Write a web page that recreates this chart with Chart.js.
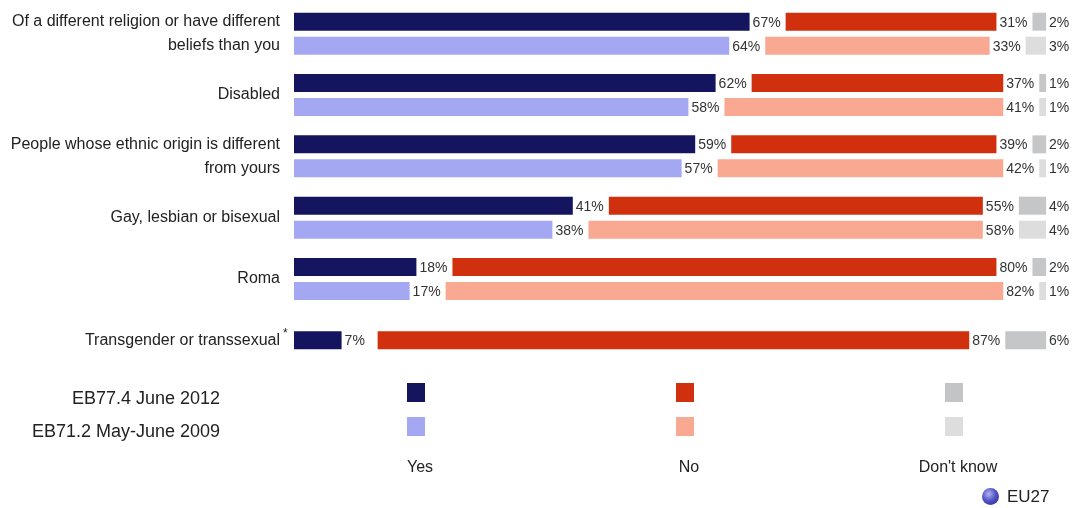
<!DOCTYPE html>
<html>
<head>
<meta charset="utf-8">
<script src="https://cdn.jsdelivr.net/npm/chart.js@4"></script>
<style>
  body { margin: 0; background: #fff; font-family: "Liberation Sans", Arial, sans-serif; }
  #wrap { position: relative; width: 1076px; height: 508px; }
  #wrap canvas { position: absolute; left: 0; top: 0; }
  .lbl { position: absolute; color: #222; white-space: nowrap; }
  .sq { position: absolute; width: 18px; height: 19px; }
  .series { font-size: 18px; line-height: 20px; text-align: right; width: 220px; left: 0; }
  .col { font-size: 16px; line-height: 18px; text-align: center; width: 120px; }
  .globe { position: absolute; left: 982px; top: 488px; width: 17px; height: 17px; border-radius: 50%;
           background: radial-gradient(circle at 40% 35%, #b4b4f0 0%, #5555c8 45%, #22227a 100%); }
</style>
</head>
<body>
<div id="wrap">
  <canvas id="myChart"></canvas>
  <div class="lbl series" style="top:388px">EB77.4 June 2012</div>
  <div class="lbl series" style="top:421px">EB71.2 May-June 2009</div>
  <div class="sq" style="left:407px;top:383px;background:#15155f"></div>
  <div class="sq" style="left:407px;top:417px;background:#a4a8f2"></div>
  <div class="sq" style="left:676px;top:383px;background:#d0300e"></div>
  <div class="sq" style="left:676px;top:417px;background:#f9a892"></div>
  <div class="sq" style="left:945px;top:383px;background:#c2c4c6"></div>
  <div class="sq" style="left:945px;top:417px;background:#dddddd"></div>
  <div class="lbl col" style="left:360px;top:458px">Yes</div>
  <div class="lbl col" style="left:629px;top:458px">No</div>
  <div class="lbl col" style="left:898px;top:458px">Don't know</div>
  <div class="globe"></div>
  <div class="lbl" style="left:1007px;top:487px;font-size:17px;line-height:19px">EU27</div>
</div>
<script>
const categories = [
  ["Of a different religion or have different", "beliefs than you"],
  "Disabled",
  ["People whose ethnic origin is different", "from yours"],
  "Gay, lesbian or bisexual",
  "Roma",
  "Transgender or transsexual"
];
const yes2012 = [67, 62, 59, 41, 18, 7];
const no2012  = [31, 37, 39, 55, 80, 87];
const dk2012  = [2, 1, 2, 4, 2, 6];
const yes2009 = [64, 58, 57, 38, 17, null];
const no2009  = [33, 41, 42, 58, 82, null];
const dk2009  = [3, 1, 1, 4, 1, null];

// room left after each segment for its % label
const GAP = 5.3;

function floating(yes, no, dk) {
  return {
    yes: yes.map(v => v == null ? null : [0, v]),
    no: yes.map((v, i) => v == null ? null : [v + GAP, v + GAP + no[i]]),
    dk: yes.map((v, i) => v == null ? null : [v + no[i] + 2 * GAP, v + no[i] + 2 * GAP + dk[i]])
  };
}
const s12 = floating(yes2012, no2012, dk2012);
const s09 = floating(yes2009, no2009, dk2009);

const valueLabels = {
  id: 'valueLabels',
  afterDatasetsDraw(chart) {
    const ctx = chart.ctx;
    ctx.save();
    ctx.font = '14px "Liberation Sans", Arial, sans-serif';
    ctx.fillStyle = '#333';
    ctx.textBaseline = 'middle';
    chart.data.datasets.forEach((ds, i) => {
      chart.getDatasetMeta(i).data.forEach((bar, j) => {
        const v = ds.values[j];
        if (v == null) return;
        ctx.fillText(v + '%', bar.x + 3, bar.y + 1);
      });
    });
    // asterisk after "Transgender or transsexual"
    const y = chart.scales.y.getPixelForValue(5);
    ctx.font = '12px "Liberation Sans", Arial, sans-serif';
    ctx.fillStyle = '#222';
    ctx.fillText('*', 283, y - 7);
    ctx.restore();
  }
};

const common = { categoryPercentage: 0.782, barPercentage: 0.75, maxBarThickness: 18, skipNull: true };

const CHART = document.getElementById("myChart");
var myChart = new Chart(CHART, {
  type: 'bar',
  data: {
    labels: categories,
    datasets: [
      { ...common, stack: '2012', data: s12.yes, values: yes2012, backgroundColor: '#15155f' },
      { ...common, stack: '2012', data: s12.no,  values: no2012,  backgroundColor: '#d0300e' },
      { ...common, stack: '2012', data: s12.dk,  values: dk2012,  backgroundColor: '#c4c6c8' },
      { ...common, stack: '2009', data: s09.yes, values: yes2009, backgroundColor: '#a4a8f2' },
      { ...common, stack: '2009', data: s09.no,  values: no2009,  backgroundColor: '#f9a892' },
      { ...common, stack: '2009', data: s09.dk,  values: dk2009,  backgroundColor: '#dddddd' }
    ]
  },
  options: {
    indexAxis: 'y',
    responsive: true,
    maintainAspectRatio: false,
    animation: false,
    layout: { padding: { top: 3, bottom: 137, left: 0, right: 0 } },
    plugins: { legend: { display: false }, tooltip: { enabled: false } },
    scales: {
      x: { display: false, stacked: false, min: 0, max: 115 },
      y: {
        afterFit: (scale) => {
          scale.width = 294;
          scale.paddingTop = 0;
          scale.paddingBottom = 0;
        },
        grid: { display: false, drawTicks: false },
        border: { display: false },
        ticks: {
          padding: 14,
          color: '#222',
          font: { family: '"Liberation Sans", Arial, sans-serif', size: 16, lineHeight: 1.5 }
        }
      }
    }
  },
  plugins: [valueLabels]
});
</script>
</body>
</html>
